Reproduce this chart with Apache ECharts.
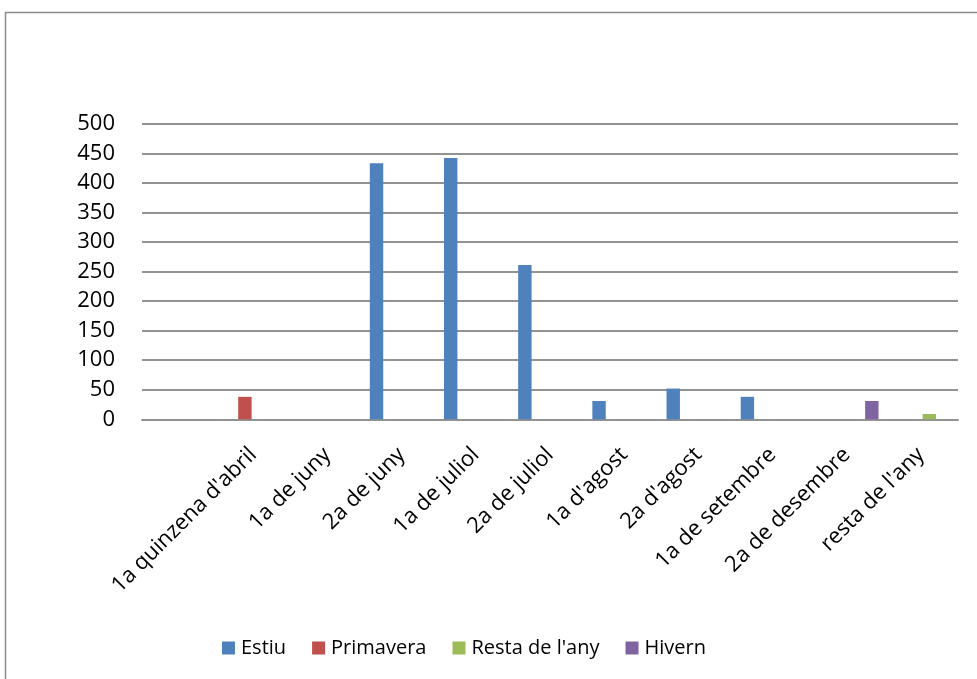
<!DOCTYPE html>
<html>
<head>
<meta charset="utf-8">
<script src="https://cdn.jsdelivr.net/npm/echarts@6/dist/echarts.min.js"></script>
<style>
html,body{margin:0;padding:0;background:#fff;}
#chart{width:977px;height:679px;}
</style>
</head>
<body>
<div id="chart"></div>
<script>
var categories = ['', "1a quinzena d'abril", '1a de juny', '2a de juny', '1a de juliol', '2a de juliol', "1a d'agost", "2a d'agost", '1a de setembre', '2a de desembre', "resta de l'any"];
var estiu = [null, null, null, 433, 442, 261, 31, 52, 38, null, null];
var primavera = [null, 38, null, null, null, null, null, null, null, null, null];
var restaAny = [null, null, null, null, null, null, null, null, null, null, 9];
var hivern = [null, null, null, null, null, null, null, null, null, 31, null];
var yTicks = [0, 50, 100, 150, 200, 250, 300, 350, 400, 450, 500];

var chart = echarts.init(document.getElementById('chart'), null, {renderer: 'canvas'});
var font = '"Open Sans", "Noto Sans", sans-serif';
var gridColor = '#929292';
function bar(name, data, color) {
  return {
    name: name, type: 'bar', data: data,
    barWidth: 13.4, barGap: '25%',
    itemStyle: {color: color},
    emphasis: {disabled: true}
  };
}
chart.setOption({
  animation: false,
  textStyle: {fontFamily: font},
  graphic: [{
    type: 'rect', shape: {x: 5.5, y: 12.5, width: 1000, height: 700},
    style: {fill: 'none', stroke: '#8a8a8a', lineWidth: 1.5}, silent: true, z: -1
  }],
  grid: {left: 142, right: 19, top: 123.7, bottom: 259.7, containLabel: false},
  legend: {
    left: 217, top: 633,
    itemWidth: 13, itemHeight: 13, itemGap: 26,
    icon: 'rect',
    textStyle: {fontSize: 20, color: '#000', fontFamily: font, padding: [0, 0, 0, 1]},
    data: ['Estiu', 'Primavera', "Resta de l'any", 'Hivern']
  },
  xAxis: {
    type: 'category', data: categories,
    axisLine: {lineStyle: {color: gridColor, width: 2}},
    axisTick: {show: false},
    axisLabel: {rotate: 45, margin: 32, fontSize: 22, color: '#000', fontFamily: font, interval: 0}
  },
  yAxis: {
    type: 'value', min: yTicks[0], max: yTicks[yTicks.length - 1], interval: yTicks[1] - yTicks[0],
    axisLine: {show: false}, axisTick: {show: false},
    splitLine: {lineStyle: {color: gridColor, width: 2}},
    axisLabel: {margin: 27, fontSize: 22, color: '#000', fontFamily: font}
  },
  series: [
    bar('Estiu', estiu, '#4F81BD'),
    bar('Primavera', primavera, '#C0504D'),
    bar("Resta de l'any", restaAny, '#9BBB59'),
    bar('Hivern', hivern, '#8064A2')
  ]
});
</script>
</body>
</html>
